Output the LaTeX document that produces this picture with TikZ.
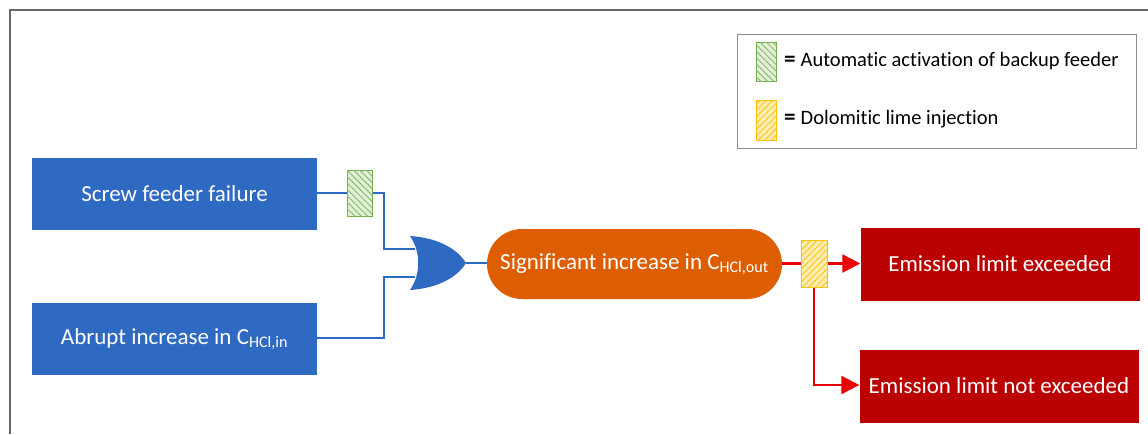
\documentclass[tikz,border=0pt]{standalone}
\usepackage{fontspec}
\setmainfont{Carlito}[Ligatures=NoCommon]
\usetikzlibrary{arrows.meta,patterns.meta}
\definecolor{boxblue}{RGB}{46,105,194}
\definecolor{pillorange}{RGB}{220,94,0}
\definecolor{darkred}{RGB}{186,0,0}
\definecolor{arrred}{RGB}{235,0,0}
\definecolor{hgreen}{RGB}{112,173,71}
\definecolor{hgreenfill}{RGB}{226,239,217}
\definecolor{hyellow}{RGB}{255,192,0}
\definecolor{hyellowfill}{RGB}{255,238,180}
\definecolor{framegray}{RGB}{105,105,105}
\begin{document}
\begin{tikzpicture}[x=1pt,y=-1pt,
  bigfont/.style={font=\fontsize{23}{27}\selectfont},
  bluebox/.style={fill=boxblue,text=white,minimum width=285pt,minimum height=72pt,inner sep=0pt,bigfont},
  redbox/.style={fill=darkred,text=white,minimum width=279pt,minimum height=73pt,inner sep=0pt,bigfont},
  pill/.style={fill=pillorange,text=white,rounded corners=35pt,minimum width=295pt,minimum height=70pt,inner sep=0pt,bigfont},
  greenhatch/.style={draw=hgreen,line width=1pt,fill=hgreenfill,minimum width=25pt,minimum height=46pt,inner sep=0pt,
     postaction={pattern={Lines[angle=-45,distance=4.5pt,line width=1pt]},pattern color=hgreen!80}},
  yellowhatch/.style={draw=hyellow,line width=1pt,fill=hyellowfill,minimum width=26pt,minimum height=47pt,inner sep=0pt,
     postaction={pattern={Lines[angle=45,distance=4.5pt,line width=1pt]},pattern color=hyellow!90}},
  blueline/.style={draw=boxblue,line width=2.4pt},
  redline/.style={draw=arrred,line width=2.4pt},
  redarrow/.style={redline,-{Triangle[length=18pt,width=18pt]}},
  legtext/.style={anchor=west,inner sep=0pt,font=\fontsize{20.5}{24}\selectfont}
]
\useasboundingbox (0,0) rectangle (1148,434);
% frame
\draw[framegray,line width=2.5pt] (10,434) -- (10,10) -- (1148,10);

% legend
\node[draw=black!45,line width=0.8pt,minimum width=399pt,minimum height=114pt,inner sep=0pt] (legend) at (936.5,91) {};
\node[greenhatch,minimum width=20pt,minimum height=39pt] (lg) at (766,61.5) {};
\node[yellowhatch,minimum width=20pt,minimum height=40pt] (ly) at (766,120) {};
\node[legtext] (lgt) at (784,61) {{\fontsize{23}{24}\selectfont\bfseries =}\hspace{5pt}Automatic activation of backup feeder};
\node[legtext] (lyt) at (784,119) {{\fontsize{23}{24}\selectfont\bfseries =}\hspace{5pt}Dolomitic lime injection};

% boxes
\node[bluebox] (sf) at (174.5,194) {Screw feeder failure};
\node[bluebox] (ab) at (174.5,339) {Abrupt increase in C\textsubscript{HCl,in}};
\node[greenhatch] (gh) at (359.5,193) {};

% OR gate
\path[fill=boxblue] (410,236) .. controls (421,252) and (421,274) .. (410,290)
   .. controls (440,288) and (458,276) .. (466,263)
   .. controls (458,250) and (440,238) .. (410,236) -- cycle;
\coordinate (gin1) at (415,249);
\coordinate (gin2) at (415,277);
\coordinate (gout) at (466,263);

\node[pill] (pl) at (634.5,264) {Significant increase in C\textsubscript{HCl,out}};
\node[yellowhatch] (yh) at (814,263.5) {};
\node[redbox] (e1) at (1000,264) {Emission limit exceeded};
\node[redbox] (e2) at (999,386) {Emission limit not exceeded};

% connectors
\draw[blueline] (sf.east |- gh.west) -- (gh.west);
\draw[blueline] (gh.east) -- (384,193) |- (gin1);
\draw[blueline] (ab.east |- 0,338) -- (384,338) |- (gin2);
\draw[blueline] (gout) -- (pl.west |- gout);
\draw[redline] (pl.east |- yh.west) -- (yh.west);
\draw[redarrow] (yh.east) -- (e1.west |- yh.east);
\draw[redarrow] (yh.south) |- (e2.west |- 0,385);
\end{tikzpicture}
\end{document}
